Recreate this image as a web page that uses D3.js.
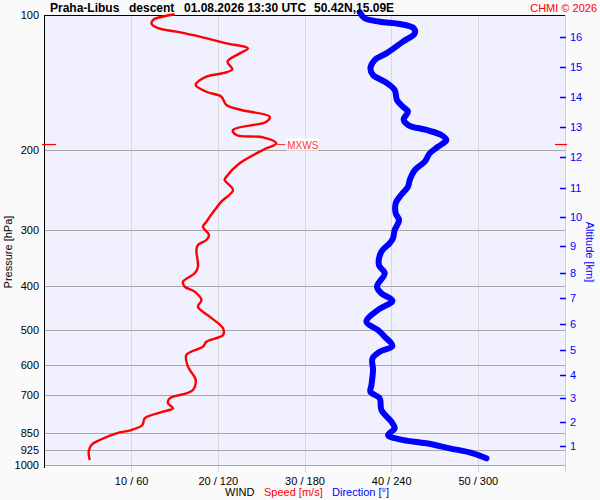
<!DOCTYPE html>
<html><head><meta charset="utf-8">
<script src="https://cdn.jsdelivr.net/npm/d3@7"></script>
<style>
html,body{margin:0;padding:0;background:#fafafa;}
svg{display:block;font-family:"Liberation Sans",Arial,sans-serif;}
</style></head>
<body><svg id="c" width="600" height="500"></svg>
<script>
// ---- data ----
const pressureTicks = [100,200,300,400,500,600,700,850,925,1000];
const speedTicks = [10,20,30,40,50,60];
const speedTickLabels = ["10 / 60","20 / 120","30 / 180","40 / 240","50 / 300",""];
const altitudeKm = [1,2,3,4,5,6,7,8,9,10,11,12,13,14,15,16];
const altitudePressure = [907.5,804.4,711.5,631,555.2,486.1,425.5,373.5,325.3,281.8,242.3,206.8,177.4,152.1,130.5,111.9];

const speedPressure = [99.6,102.6,104.7,107.0,108.9,111.7,115.6,118.6,121.7,127.0,132.0,134.7,137.1,143.1,148.1,151.9,158.5,162.6,168.3,172.6,180.1,184.8,187.0,192.8,199.5,213.6,228.7,232.6,244.8,259.9,271.3,288.0,295.4,308.3,316.2,324.4,333.0,362.5,375.0,391.4,401.5,411.9,429.9,444.9,468.2,496.9,514.2,532.1,545.9,569.6,604.8,647.4,681.3,692.9,710.8,729.3,748.2,761.3,787.5,815.0,836.1,850.4,880.0,902.8,934.3,974.7];
const speedValues = [14.96,12.46,12.31,13.04,15.16,17.85,20.93,23.42,22.46,21.05,21.62,20.54,18.62,17.39,18.62,20.35,20.93,22.66,25.93,25.55,21.69,22.08,25.15,26.70,25.15,22.46,20.93,20.73,21.69,20.35,19.58,18.62,18.23,18.92,18.62,17.65,17.47,17.65,17.27,15.92,16.12,17.27,18.05,17.65,19.0,20.54,20.54,18.62,18.23,16.31,16.5,17.39,17.08,16.31,14.39,14.19,14.77,13.61,11.5,11.24,9.97,8.24,6.31,5.35,5.04,5.16];

const dirPressure = [98.6,101.7,103.5,104.7,107.0,109.8,114.6,121.7,125.9,131.4,135.9,141.4,146.8,154.5,159.9,164.0,170.5,175.5,180.1,184.8,189.6,196.2,203.0,211.8,221.1,232.6,240.7,253.3,262.0,275.9,285.6,300.5,313.6,321.6,335.7,359.4,375.0,401.5,415.3,431.4,452.4,480.4,501.2,518.7,544.0,560.1,579.4,615.1,664.2,687.3,710.8,754.8,801.1,828.8,857.7,876.9,894.9,918.2,941.9,966.3];
const dirValues = [217.9,221.3,231.7,245.6,255.3,256.0,247.8,236.4,228.3,225.3,227.1,236.4,242.1,243.7,247.8,251.3,248.3,251.3,264.0,274.4,277.9,272.1,266.3,262.9,256.0,252.5,251.3,245.6,242.8,242.8,245.1,242.1,240.9,238.6,232.9,231.2,235.2,229.8,232.9,240.5,230.5,222.5,230.5,235.2,240.5,231.7,226.7,227.1,226.0,225.3,231.7,232.9,239.8,242.1,237.5,245.6,264.0,280.2,296.3,305.6];

const mxwsPressure = 194;
const mxwsSpeed = 26.8;

// ---- layout ----
const L = 45, R = 565, T = 15, B = 465;
const svg = d3.select("#c");
const y = d3.scaleLog().domain([100,1000]).range([T,B]);
const xs = d3.scaleLinear().domain([0,60]).range([L,R]);
const xd = d3.scaleLinear().domain([0,360]).range([L,R]);

svg.append("rect").attr("x",L).attr("y",T).attr("width",R-L).attr("height",B-T).attr("fill","#f0f0ff");

// vertical grid (extend as ticks below)
svg.append("g").selectAll("line").data(speedTicks).join("line")
  .attr("x1",d=>xs(d)).attr("x2",d=>xs(d)).attr("y1",T).attr("y2",B+7)
  .attr("stroke",d=>d===60?"#cfcfd8":"#d8d8d8").attr("stroke-width",1).attr("shape-rendering","crispEdges");

// horizontal grid
svg.append("g").selectAll("line").data(pressureTicks.filter(p=>p>100)).join("line")
  .attr("x1",L).attr("x2",R).attr("y1",d=>Math.round(y(d))+0.5).attr("y2",d=>Math.round(y(d))+0.5)
  .attr("stroke","#a8a8a8").attr("stroke-width",1);

// axes lines
svg.append("line").attr("x1",L-0.5).attr("x2",R).attr("y1",T+0.5).attr("y2",T+0.5).attr("stroke","#000");
svg.append("line").attr("x1",L-0.5).attr("x2",L-0.5).attr("y1",T).attr("y2",B+3).attr("stroke","#000");

// left tick labels
svg.append("g").selectAll("text").data(pressureTicks).join("text")
  .attr("x",39).attr("y",d=>y(d)+4).attr("text-anchor","end")
  .attr("font-size",11).attr("fill","#000").text(d=>d);

// bottom tick labels
svg.append("g").selectAll("text").data(speedTicks).join("text")
  .attr("x",d=>xs(d)).attr("y",485).attr("text-anchor","middle")
  .attr("font-size",11).attr("fill","#000").text((d,i)=>speedTickLabels[i]);

// bottom title
const bt = svg.append("text").attr("y",496).attr("font-size",11);
svg.append("text").attr("x",225).attr("y",496).attr("font-size",11).attr("fill","#000").text("WIND");
svg.append("text").attr("x",264).attr("y",496).attr("font-size",11).attr("fill","#ff0000").text("Speed [m/s]");
svg.append("text").attr("x",332).attr("y",496).attr("font-size",11).attr("fill","#0000ff").text("Direction [°]");

// left title
svg.append("text").attr("transform","translate(12,252) rotate(-90)").attr("text-anchor","middle")
  .attr("font-size",11).attr("fill","#000").text("Pressure [hPa]");

// right axis
svg.append("g").selectAll("line").data(altitudeKm).join("line")
  .attr("x1",560).attr("x2",566).attr("y1",(d,i)=>Math.round(y(altitudePressure[i]))+0.5).attr("y2",(d,i)=>Math.round(y(altitudePressure[i]))+0.5)
  .attr("stroke","#0000ff").attr("stroke-width",1.5);
svg.append("g").selectAll("text").data(altitudeKm).join("text")
  .attr("x",570).attr("y",(d,i)=>y(altitudePressure[i])+4)
  .attr("font-size",11).attr("fill","#0000ff").text(d=>d);
svg.append("text").attr("transform","translate(586,252) rotate(90)").attr("text-anchor","middle")
  .attr("font-size",11).attr("fill","#0000ff").text("Altitude [km]");

// lines
const dirLine = d3.line().x(d=>xd(d[1])).y(d=>y(d[0])).curve(d3.curveCatmullRom);
svg.append("path").datum(dirPressure.map((p,i)=>[p,dirValues[i]]))
  .attr("d",dirLine).attr("fill","none").attr("stroke","#0000ff").attr("stroke-width",6)
  .attr("stroke-linejoin","round").attr("stroke-linecap","round");
const spdLine = d3.line().x(d=>xs(d[1])).y(d=>y(d[0])).curve(d3.curveCatmullRom);
svg.append("path").datum(speedPressure.map((p,i)=>[p,speedValues[i]]))
  .attr("d",spdLine).attr("fill","none").attr("stroke","#ff0000").attr("stroke-width",2.4)
  .attr("stroke-linejoin","round");

// MXWS marker
const my = y(mxwsPressure);
svg.append("line").attr("x1",42).attr("x2",56).attr("y1",my).attr("y2",my).attr("stroke","#ff0000").attr("stroke-width",1.2);
svg.append("line").attr("x1",555).attr("x2",567).attr("y1",my).attr("y2",my).attr("stroke","#ff0000").attr("stroke-width",1.2);
svg.append("line").attr("x1",xs(mxwsSpeed)).attr("x2",xs(mxwsSpeed)+8).attr("y1",my).attr("y2",my).attr("stroke","#ff3333").attr("stroke-width",1);
svg.append("rect").attr("x",xs(mxwsSpeed)+9).attr("y",my-6).attr("width",32).attr("height",12).attr("fill","#ffffff");
svg.append("text").attr("x",xs(mxwsSpeed)+10).attr("y",my+4).attr("font-size",10).attr("fill","#ff3333").text("MXWS");

// title
const tt = svg.append("g").attr("font-size",12).attr("font-weight","bold").attr("fill","#000");
tt.append("text").attr("x",50).attr("y",12).text("Praha-Libus");
tt.append("text").attr("x",129).attr("y",12).text("descent");
tt.append("text").attr("x",184).attr("y",12).text("01.08.2026 13:30 UTC");
tt.append("text").attr("x",314).attr("y",12).text("50.42N,15.09E");
svg.append("text").attr("x",597).attr("y",12).attr("text-anchor","end").attr("font-size",11).attr("fill","#ff0000").text("CHMI © 2026");
</script>
</body></html>
